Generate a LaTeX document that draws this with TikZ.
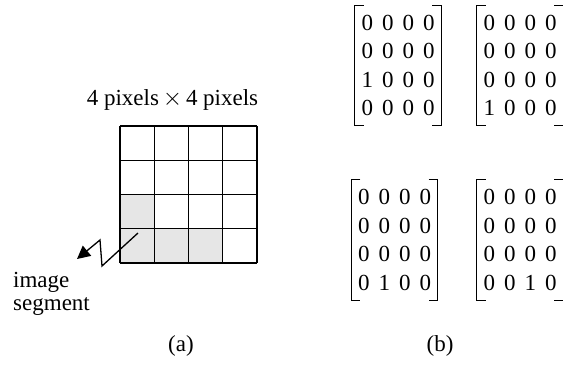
\documentclass[tikz,border=0pt]{standalone}
\usepackage{fontspec}
\setmainfont{Liberation Serif}
\usepackage{tikz}
\usetikzlibrary{calc,positioning,matrix,arrows.meta}
\usepackage{xcolor}
\definecolor{SegFill}{HTML}{E6E6E6}

\tikzset{
  bits/.style={matrix of nodes, inner sep=0pt, column sep=0pt, row sep=0pt,
    nodes={minimum width=20.5pt, minimum height=28.5pt, inner sep=0pt, anchor=center}},
  brack/.style={line width=1pt},
}
% left and right brackets round a matrix node
\newcommand{\brackets}[1]{%
  \draw[brack] ($(#1.north west)+(7,3)$) -| ($(#1.south west)+(-2,-3)$) -- ++(9,0);
  \draw[brack] ($(#1.north east)+(-7,3)$) -| ($(#1.south east)+(2,-3)$) -- ++(-9,0);
}

\begin{document}
\begin{tikzpicture}[x=1pt, y=1pt, font=\fontsize{23}{24}\selectfont]
  \useasboundingbox (0,0) rectangle (563,368);
  % (a) the 4 x 4 block
  \node[anchor=base] (title) at (172.5,263) {4 pixels\,$\times$\,4 pixels};
  \begin{scope}[shift={(120,105)}]
    \fill[SegFill] (0,0) rectangle (102.75,34.25);
    \fill[SegFill] (0,34.25) rectangle (34.25,68.5);
    \draw[line width=1.3pt] (0,0) grid[step=34.25] (137,137);
  \end{scope}
  \coordinate (segin) at (138,135);
  \coordinate (segout) at (77,109);
  \draw[line width=1.3pt, -{Triangle[length=13pt,width=13pt]}] (segin) -- (102,102) -- (100,128) -- (segout);
  \node[anchor=base west, inner sep=0pt] (img) at (13,81) {image};
  \node[anchor=base west, inner sep=0pt] (seg) at (13,58) {segment};
  \node (capa) at (181,22) {(a)};

  % (b) the four masks
  \matrix[bits] (m1) at (398,302.5) {0 & 0 & 0 & 0 \\ 0 & 0 & 0 & 0 \\ 1 & 0 & 0 & 0 \\ 0 & 0 & 0 & 0 \\};
  \matrix[bits] (m2) at (520,302.5) {0 & 0 & 0 & 0 \\ 0 & 0 & 0 & 0 \\ 0 & 0 & 0 & 0 \\ 1 & 0 & 0 & 0 \\};
  \matrix[bits] (m3) at (394.5,128) {0 & 0 & 0 & 0 \\ 0 & 0 & 0 & 0 \\ 0 & 0 & 0 & 0 \\ 0 & 1 & 0 & 0 \\};
  \matrix[bits] (m4) at (520,128) {0 & 0 & 0 & 0 \\ 0 & 0 & 0 & 0 \\ 0 & 0 & 0 & 0 \\ 0 & 0 & 1 & 0 \\};
  \foreach \m in {m1,m2,m3,m4} {\brackets{\m}}
  \node (capb) at (440,22) {(b)};
\end{tikzpicture}
\end{document}
